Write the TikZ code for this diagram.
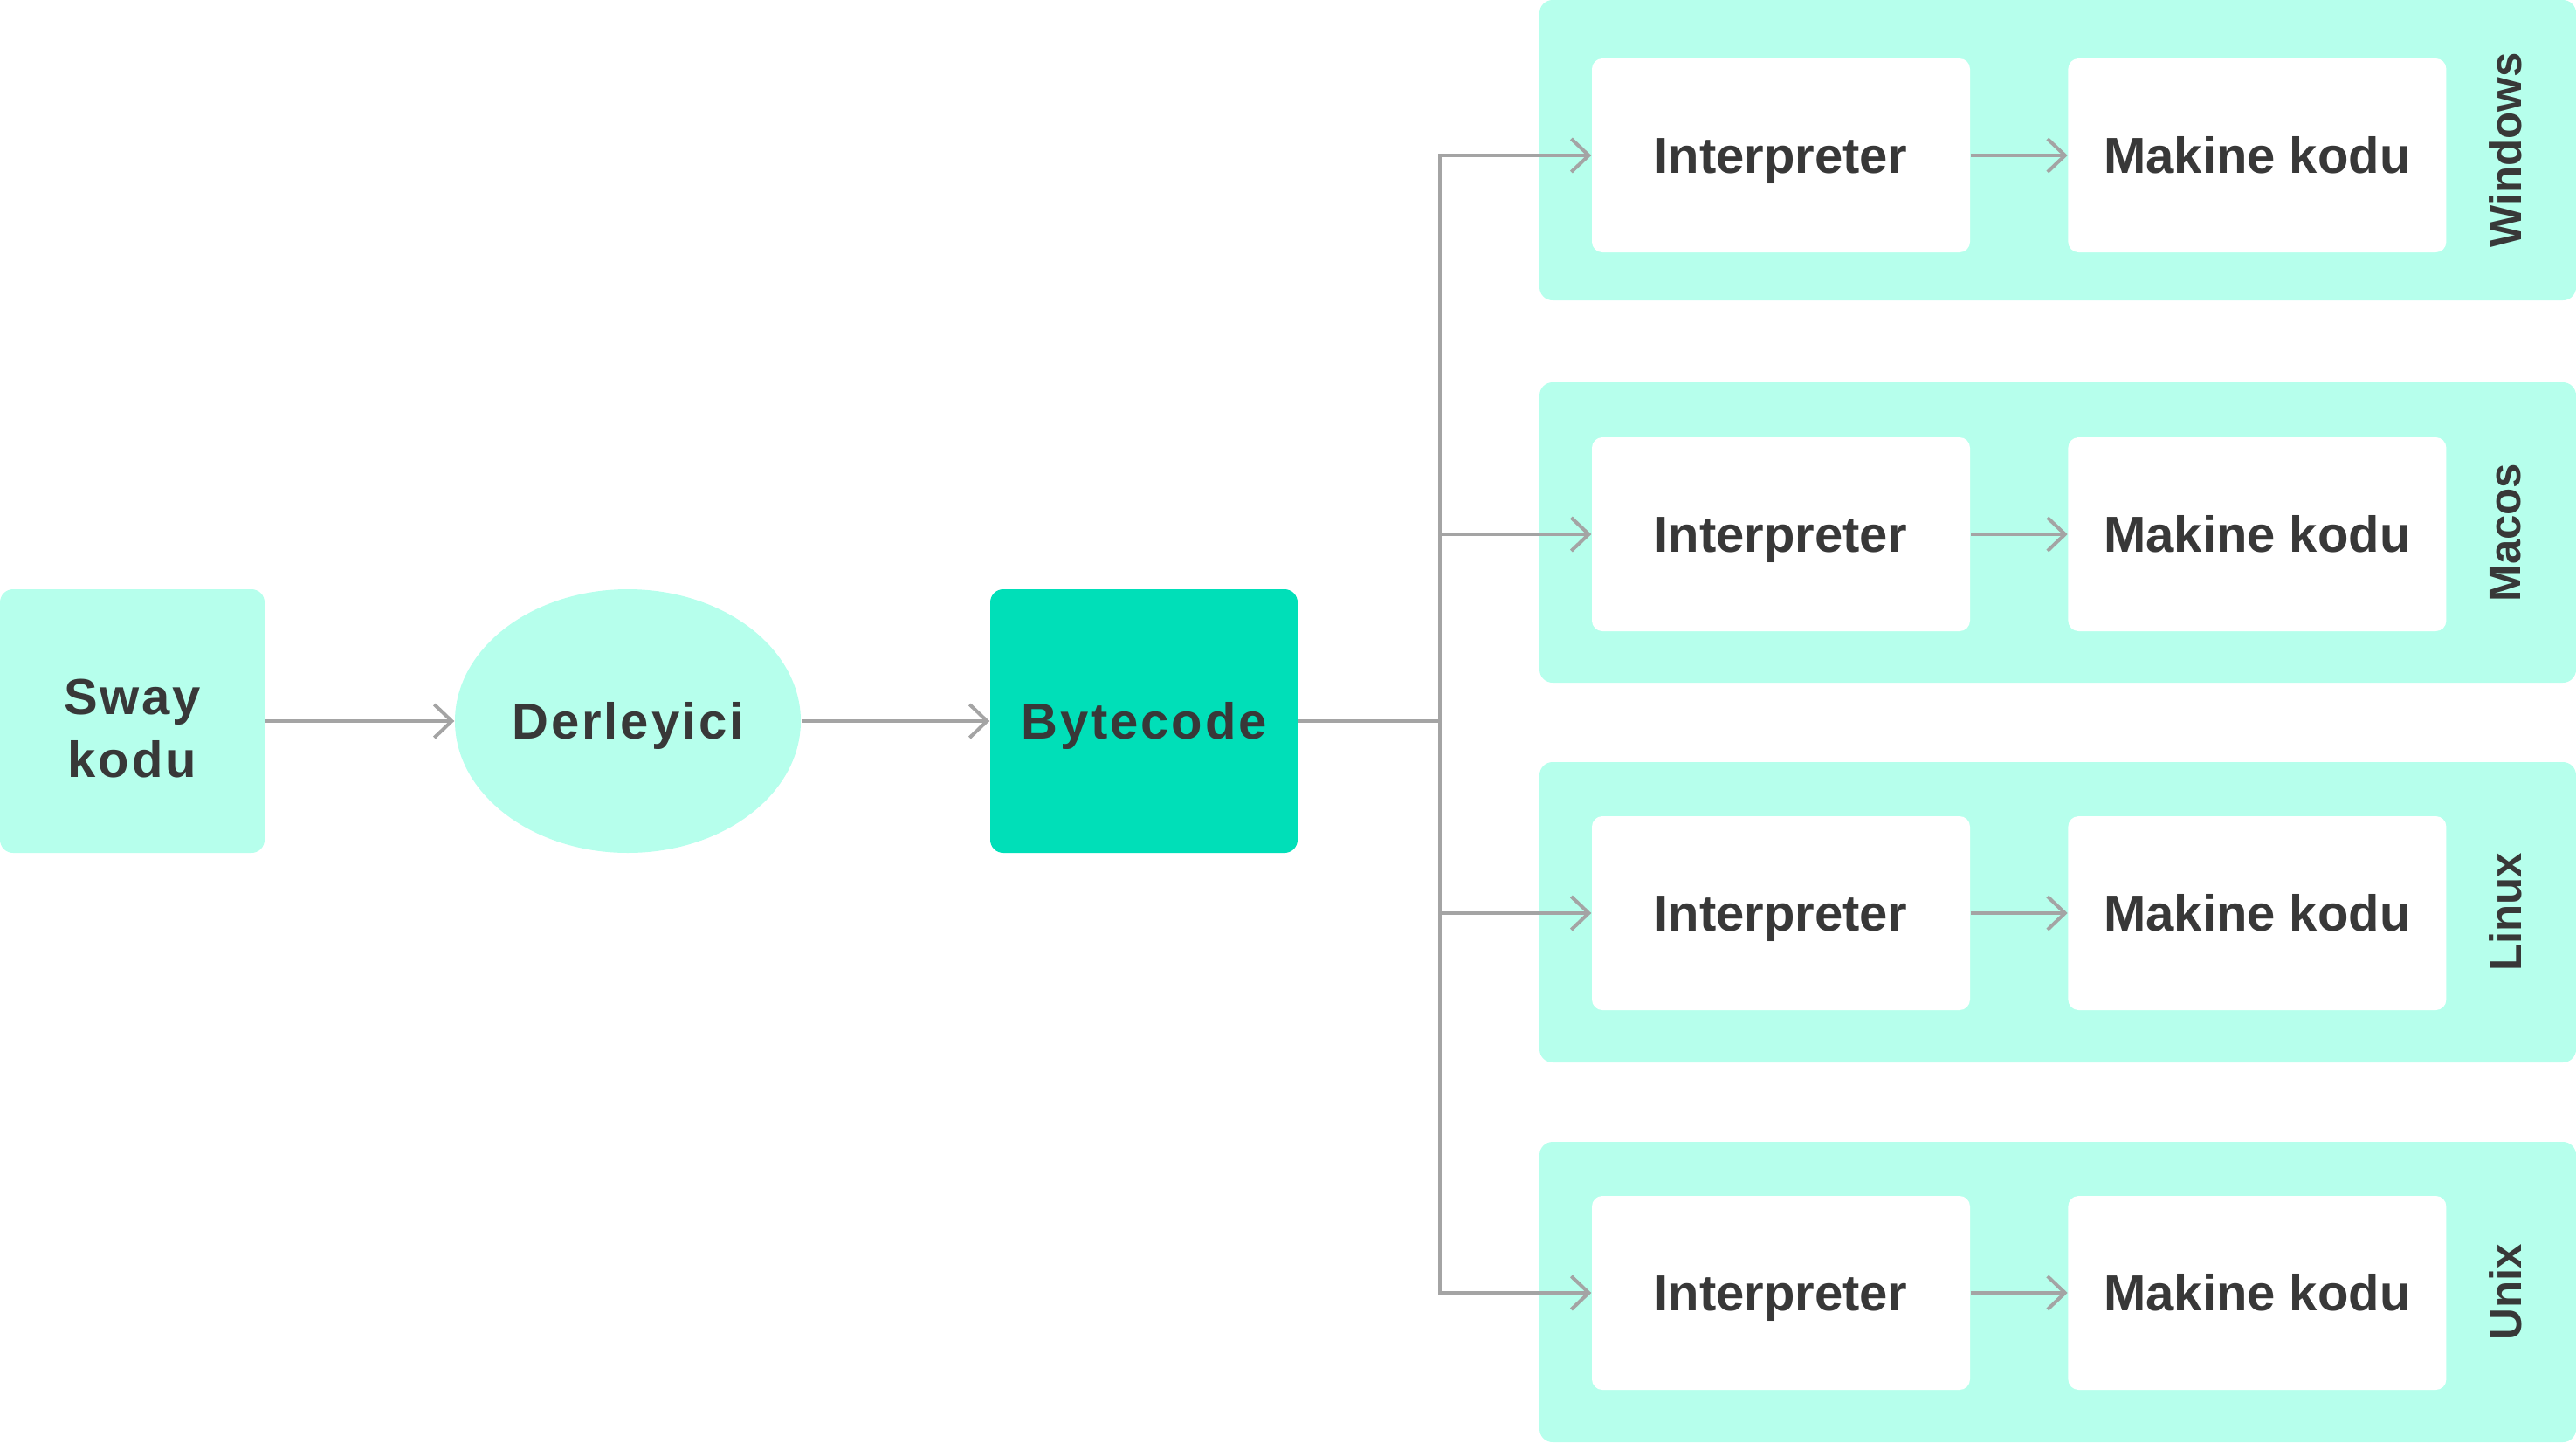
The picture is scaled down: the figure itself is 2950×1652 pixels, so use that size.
\documentclass[tikz,border=0pt]{standalone}
\usepackage{fontspec}
\setmainfont{Liberation Sans}
\usetikzlibrary{positioning,arrows.meta,shapes.geometric}
\definecolor{mint}{HTML}{B6FFEC}
\definecolor{teal}{HTML}{00DFB8}
\definecolor{ink}{HTML}{383838}
\definecolor{wire}{HTML}{A4A4A4}
\begin{document}
\begin{tikzpicture}[x=0.1mm,y=-0.1mm,
  lbl/.style={text=ink, text height=11.8pt, text depth=0pt, font=\fontsize{16.5}{20.5}\selectfont\bfseries},
  wide/.style={lbl, font=\fontsize{16.5}{20.5}\selectfont\bfseries\addfontfeature{LetterSpace=5}},
  stage/.style={rectangle, rounded corners=1.5mm, inner sep=0pt, minimum width=30.3mm, minimum height=30.2mm, align=center, fill=mint},
  osbox/.style={rectangle, rounded corners=1.5mm, inner sep=0pt, minimum width=118.7mm, minimum height=34.4mm, fill=mint},
  inbox/.style={rectangle, rounded corners=1.2mm, inner sep=0pt, minimum width=43.3mm, minimum height=22.2mm, fill=white, lbl},
  oslbl/.style={rotate=90, text=ink, font=\fontsize{14.5}{17}\selectfont\bfseries},
  line/.style={draw=wire, line width=0.4mm},
  conn/.style={line, -{Straight Barb[length=2mm,width=3.8mm]}}]
\useasboundingbox (0,0) rectangle (2950,1652);
% left chain
\node[stage, wide, text height=36.6pt, text depth=0pt] (sway) at (151.5,826) {Sway\\kodu};
\node[ellipse, inner sep=0pt, minimum width=39.6mm, minimum height=30.2mm, fill=mint, wide] (derl) at (719,826) {Derleyici};
\node[stage, fill=teal, minimum width=35.2mm, wide] (byte) at (1310,826) {Bytecode};
\draw[conn] (sway.east) -- (derl.west);
\draw[conn] (derl.east) -- (byte.west);
% platforms
\node[osbox] (win) at (2356.5,172) {};
\node[osbox] (mac) at (2356.5,610) {};
\node[osbox] (lin) at (2356.5,1045) {};
\node[osbox] (unx) at (2356.5,1480) {};
\node[inbox] (I1) at (2039.5,178) {Interpreter};
\node[inbox] (I2) at (2039.5,612) {Interpreter};
\node[inbox] (I3) at (2039.5,1046) {Interpreter};
\node[inbox] (I4) at (2039.5,1481) {Interpreter};
\node[inbox, right=11.1mm of I1] (M1) {Makine kodu};
\node[inbox, right=11.1mm of I2] (M2) {Makine kodu};
\node[inbox, right=11.1mm of I3] (M3) {Makine kodu};
\node[inbox, right=11.1mm of I4] (M4) {Makine kodu};
\node[oslbl] (L1) at (2869,172) {Windows};
\node[oslbl] (L2) at (2869,610) {Macos};
\node[oslbl] (L3) at (2869,1045) {Linux};
\node[oslbl] (L4) at (2869,1480) {Unix};
% branching
\node[shape=coordinate] at ([xshift=16.2mm]byte.east) (J) {};
\draw[line] (byte.east) -- (J);
\draw[conn] (J) |- (I1.west);
\draw[conn] (J) |- (I2.west);
\draw[conn] (J) |- (I3.west);
\draw[conn] (J) |- (I4.west);
\draw[conn] (I1.east) -- (M1.west);
\draw[conn] (I2.east) -- (M2.west);
\draw[conn] (I3.east) -- (M3.west);
\draw[conn] (I4.east) -- (M4.west);
\end{tikzpicture}
\end{document}
